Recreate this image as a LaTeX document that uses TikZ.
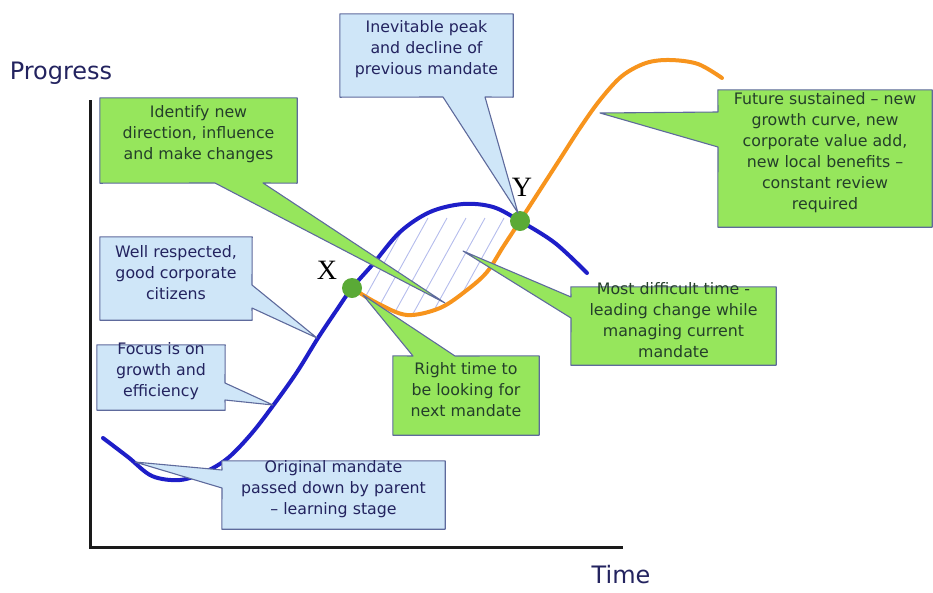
\documentclass[tikz,border=0pt]{standalone}
\usepackage{fontspec}
\setmainfont{DejaVu Sans}
\newfontfamily\markfont{Liberation Serif}
\usetikzlibrary{fit}
\definecolor{boxgreen}{HTML}{96E65C}
\definecolor{boxblue}{HTML}{CFE6F8}
\definecolor{boxedge}{HTML}{5E6A9C}
\definecolor{txtnavy}{HTML}{23235F}
\definecolor{txtgreen}{HTML}{243F2A}
\definecolor{curveblue}{HTML}{1E1EC8}
\definecolor{curveorange}{HTML}{F7941D}
\definecolor{dotgreen}{HTML}{5AAA36}
\definecolor{hatchcol}{HTML}{B4BCEC}
\definecolor{axiscol}{HTML}{1A1A1A}
\pgfdeclarelayer{curves}
\pgfdeclarelayer{shapes}
\pgfsetlayers{curves,shapes,main}

\begin{document}
\begin{tikzpicture}[x=1pt,y=-1pt,
  boxtext/.style={inner sep=0pt, align=center, font=\fontsize{15.8}{21}\selectfont},
  greentext/.style={boxtext, text=txtgreen},
  bluetext/.style={boxtext, text=txtnavy},
  greencall/.style={fill=boxgreen, draw=boxedge, line width=1.1pt, line join=round},
  bluecall/.style={fill=boxblue, draw=boxedge, line width=1.1pt, line join=round},
  axislabel/.style={text=txtnavy, font=\fontsize{24}{28}\selectfont, inner sep=0pt},
  curve/.style={line width=4pt, line cap=round, line join=round},
  dot/.style={circle, fill=dotgreen, minimum size=20pt, inner sep=0pt},
  ptlabel/.style={font=\markfont\fontsize{28}{30}\selectfont, inner sep=0pt},
]
\useasboundingbox (0,0) rectangle (933,592);

% axes, curves and the two turning points
\begin{pgfonlayer}{curves}
  \draw[axiscol, line width=3pt] (90,100) -- (90,547) -- (623,547);
  % shaded overlap between the two mandates
  \begin{scope}
    \clip plot[smooth, tension=0.55] coordinates {(352,288) (373,264) (400,232) (430,212) (463,204) (493,207) (520,221)}
      -- plot[smooth, tension=0.55] coordinates {(520,221) (503,247) (487,272) (467,290) (440,308) (407,315) (377,303) (352,288)} -- cycle;
    \foreach \k in {0,...,14}
      \draw[hatchcol, line width=0.9pt] ({290+19*\k},330) -- ++(62,-112);
  \end{scope}
  \draw[curve, curveblue] plot[smooth, tension=0.55] coordinates {
    (103,438) (128,457) (152,476) (180,480) (205,472) (228,458) (252,433)
    (275,403) (297,372) (318,338) (336,311) (352,288) (373,264) (400,232)
    (430,212) (463,204) (493,207) (520,221) (555,243) (587,273)};
  \draw[curve, curveorange] plot[smooth, tension=0.55] coordinates {
    (352,288) (377,303) (407,315) (440,308) (467,290) (487,272) (503,247)
    (520,221) (540,190) (560,159) (580,128) (600,100) (622,76) (646,63)
    (670,60) (698,64) (722,78)};
  \node[dot] (X) at (352,288) {};
  \node[dot] (Y) at (520,221) {};
\end{pgfonlayer}

\node[axislabel] (progress) at (61,73) {Progress};
\node[axislabel] (time) at (621,575) {Time};
\node[ptlabel] (xlab) at (327,270) {X};
\node[ptlabel] (ylab) at (522,187) {Y};

% callout texts
\node[greentext, fit={(100,98) (297,183)}] (ident) {Identify new\\direction, influence\\and make changes};
\node[bluetext, fit={(100,237) (252,320)}] (resp) {Well respected,\\good corporate\\citizens};
\node[bluetext, fit={(97,345) (225,410)}] (focus) {Focus is on\\growth and\\efficiency};
\node[bluetext, fit={(222,461) (445,529)}] (orig) {Original mandate\\passed down by parent\\-- learning stage};
\node[bluetext, fit={(340,14) (513,97)}] (peak) {Inevitable peak\\and decline of\\previous mandate};
\node[greentext, fit={(718,90) (932,227)}] (future) {Future sustained -- new\\growth curve, new\\corporate value add,\\new local benefits --\\constant review\\required};
\node[greentext, fit={(571,287) (776,365)}] (hard) {Most difficult time -\\leading change while\\managing current\\mandate};
\node[greentext, fit={(393,356) (539,435)}] (right) {Right time to\\be looking for\\next mandate};

% pointer tips
\coordinate (ident-tip) at (445,303);
\coordinate (resp-tip) at (317,338);
\coordinate (focus-tip) at (273,405);
\coordinate (orig-tip) at (135,462);
\coordinate (peak-tip) at (518,213);
\coordinate (future-tip) at (600,113);
\coordinate (hard-tip) at (463,251);
\coordinate (right-tip) at (363,295);

% callout outlines: box plus pointer wedge
\begin{pgfonlayer}{shapes}
  \path[greencall] (ident.north west) -- (ident.north east) -- (ident.south east)
    -- (263,183) -- (ident-tip) -- (215,183) -- (ident.south west) -- cycle;
  \path[bluecall] (resp.north west) -- (resp.north east) -- (252,285) -- (resp-tip)
    -- (252,308) -- (resp.south east) -- (resp.south west) -- cycle;
  \path[bluecall] (focus.north west) -- (focus.north east) -- (225,383) -- (focus-tip)
    -- (225,400) -- (focus.south east) -- (focus.south west) -- cycle;
  \path[bluecall] (orig.north west) -- (orig.north east) -- (orig.south east)
    -- (orig.south west) -- (222,488) -- (orig-tip) -- (222,470) -- cycle;
  \path[bluecall] (peak.north west) -- (peak.north east) -- (peak.south east)
    -- (485,97) -- (peak-tip) -- (443,97) -- (peak.south west) -- cycle;
  \path[greencall] (future.north west) -- (future.north east) -- (future.south east)
    -- (future.south west) -- (718,147) -- (future-tip) -- (718,112) -- cycle;
  \path[greencall] (hard.north west) -- (hard.north east) -- (hard.south east)
    -- (hard.south west) -- (571,318) -- (hard-tip) -- (571,297) -- cycle;
  \path[greencall] (right.north west) -- (413,356) -- (right-tip) -- (455,356)
    -- (right.north east) -- (right.south east) -- (right.south west) -- cycle;
\end{pgfonlayer}
\end{tikzpicture}
\end{document}
